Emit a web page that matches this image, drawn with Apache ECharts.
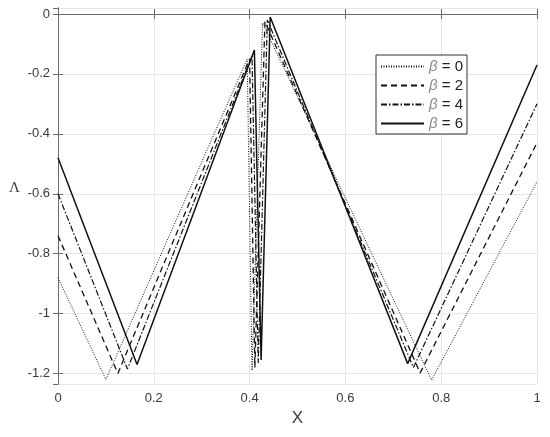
<!DOCTYPE html>
<html>
<head>
<meta charset="utf-8">
<title>Lambda vs X</title>
<script src="https://cdn.jsdelivr.net/npm/echarts@6/dist/echarts.min.js"></script>
<style>
  html, body { margin: 0; padding: 0; background: #fff; }
  #chart { width: 550px; height: 437px; }
</style>
</head>
<body>
<div id="chart"></div>
<script>
// break points of each curve
const beta0X = [0, 0.100, 0.395, 0.405, 0.427, 0.780, 1]
const beta0Y = [-0.88, -1.22, -0.15, -1.19, -0.03, -1.222, -0.56]
const beta2X = [0, 0.125, 0.400, 0.411, 0.432, 0.756, 1]
const beta2Y = [-0.74, -1.20, -0.15, -1.18, -0.025, -1.198, -0.43]
const beta4X = [0, 0.145, 0.405, 0.418, 0.437, 0.742, 1]
const beta4Y = [-0.60, -1.185, -0.14, -1.165, -0.02, -1.18, -0.30]
const beta6X = [0, 0.165, 0.410, 0.424, 0.443, 0.730, 1]
const beta6Y = [-0.48, -1.17, -0.12, -1.155, -0.01, -1.167, -0.17]
const seriesNames = ['β = 0', 'β = 2', 'β = 4', 'β = 6']

const pairs = (xs, ys) => xs.map((x, i) => [x, ys[i]])

const axisGray = '#6b6b6b'
const labelColor = '#3a3a3a'
const font = 'Liberation Sans, Arial, sans-serif'

const chart = echarts.init(document.getElementById('chart'))

// 线型设置
const styles = [
  { width: 1, type: [1, 1.5] },
  { width: 1.3, type: [6, 4] },
  { width: 1.2, type: [6, 2, 1.5, 2] },
  { width: 1.5, type: 'solid' }
]
const allData = [
  pairs(beta0X, beta0Y),
  pairs(beta2X, beta2Y),
  pairs(beta4X, beta4Y),
  pairs(beta6X, beta6Y)
]

const option = {
  animation: false,
  backgroundColor: '#fff',
  grid: { left: 58, right: 13, top: 8, bottom: 53 },
  legend: {
    orient: 'vertical',
    left: 376,
    top: 55,
    padding: [4, 4, 3, 4],
    itemGap: 4,
    itemWidth: 43,
    itemHeight: 14,
    borderColor: '#333',
    borderWidth: 1,
    backgroundColor: '#fff',
    // 隐藏图例中间的圆点
    itemStyle: { opacity: 0 },
    data: seriesNames,
    formatter: name => '{b|β}{t|' + name.slice(1) + '}',
    textStyle: {
      rich: {
        b: { fontFamily: font, fontStyle: 'italic', fontSize: 15, color: '#8a8a8a' },
        t: { fontFamily: font, fontSize: 15, color: '#222' }
      }
    }
  },
  xAxis: [
    {
      type: 'value',
      min: 0,
      max: 1,
      interval: 0.2,
      name: 'X',
      nameLocation: 'middle',
      nameGap: 25,
      nameTextStyle: { fontFamily: font, fontSize: 17, color: labelColor },
      axisLine: { show: true, lineStyle: { color: axisGray } },
      axisTick: { show: true, inside: true, length: 5, lineStyle: { color: axisGray } },
      axisLabel: { fontFamily: font, fontSize: 13, color: labelColor, margin: 8 },
      splitLine: { show: true, lineStyle: { color: '#e6e6e6' } }
    },
    {
      type: 'value',
      position: 'top',
      min: 0,
      max: 1,
      interval: 0.2,
      axisLine: { show: true, lineStyle: { color: axisGray } },
      axisTick: { show: true, inside: true, length: 5, lineStyle: { color: axisGray } },
      axisLabel: { show: false },
      splitLine: { show: false }
    }
  ],
  yAxis: [
    {
      type: 'value',
      min: -1.235,
      max: 0.02,
      splitNumber: 6,
      name: 'Λ',
      nameLocation: 'middle',
      nameRotate: 0,
      nameGap: 38,
      nameTextStyle: {
        fontFamily: 'Liberation Serif, Times New Roman, serif',
        fontSize: 15,
        color: labelColor,
        verticalAlign: 'bottom'
      },
      axisLine: { show: true, lineStyle: { color: axisGray } },
      axisTick: { show: true, inside: true, length: 5, lineStyle: { color: axisGray } },
      axisLabel: {
        fontFamily: font,
        fontSize: 13,
        color: labelColor,
        margin: 8,
        showMinLabel: false,
        showMaxLabel: false,
        formatter: v => String(Math.round(v * 10) / 10)
      },
      splitLine: { show: true, lineStyle: { color: '#e6e6e6' } }
    },
    {
      type: 'value',
      position: 'right',
      min: -1.235,
      max: 0.02,
      splitNumber: 6,
      axisLine: { show: true, lineStyle: { color: axisGray } },
      axisTick: { show: true, inside: true, length: 5, lineStyle: { color: axisGray } },
      axisLabel: { show: false },
      splitLine: { show: false }
    }
  ],
  series: allData.map((d, i) => ({
    name: seriesNames[i],
    type: 'line',
    data: d,
    symbol: 'none',
    showSymbol: false,
    color: '#111',
    lineStyle: { color: '#111', width: styles[i].width, type: styles[i].type },
    z: 3 + i
  }))
}
chart.setOption(option)
</script>
</body>
</html>
